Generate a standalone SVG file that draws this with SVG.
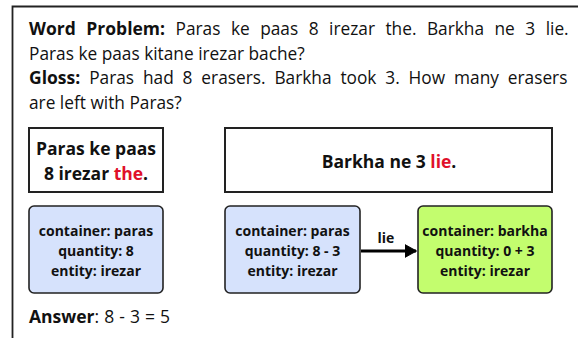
<svg xmlns="http://www.w3.org/2000/svg" width="578" height="338" viewBox="0 0 578 338">
<defs>
<style>
.t{font-family:"Open Sans","Noto Sans",sans-serif;fill:#111}
.b{font-weight:bold;font-size:17.5px}
.prob{font-size:17.3px}
.lbl{font-size:17.5px;font-weight:bold;text-anchor:middle}
.nd{font-size:14px;font-weight:bold;text-anchor:middle}
.red{fill:#e0102a}
.box{fill:#fff;stroke:#222;stroke-width:2}
.blue{fill:#d6e2fc;stroke:#222;stroke-width:1.6}
.green{fill:#c3fd6e;stroke:#222;stroke-width:1.6}
</style>
<marker id="ah" markerWidth="5" markerHeight="5" refX="3.8" refY="2.2" orient="auto" markerUnits="strokeWidth">
<path d="M0,0 L4,2.2 L0,4.4 Z" fill="#000" stroke="#000" stroke-width="0.3" stroke-linejoin="round"/>
</marker>
</defs>
<rect width="578" height="338" fill="#fff"/>
<path d="M12.5,345 V6.5 H585" fill="none" stroke="#222" stroke-width="1.8"/>
<g id="problem" class="t prob">
<text x="29" y="35" word-spacing="6"><tspan class="b">Word Problem:</tspan> Paras ke paas 8 irezar the. Barkha ne 3 lie.</text>
<text x="29" y="59.5">Paras ke paas kitane irezar bache?</text>
<text x="29" y="84" word-spacing="4.4"><tspan class="b">Gloss:</tspan> Paras had 8 erasers. Barkha took 3. How many erasers</text>
<text x="29" y="108.5">are left with Paras?</text>
</g>
<g id="sentence1">
<rect class="box" x="29" y="128" width="134" height="64"/>
<text class="t lbl" x="96" y="155">Paras ke paas</text>
<text class="t lbl" x="96" y="180">8 irezar <tspan class="red">the</tspan>.</text>
</g>
<g id="sentence2">
<rect class="box" x="225" y="128" width="327" height="64"/>
<text class="t lbl" x="389" y="168">Barkha ne 3 <tspan class="red">lie</tspan>.</text>
</g>
<g id="node1">
<rect class="blue" x="29" y="206" width="134" height="87" rx="5"/>
<text class="t nd" x="96" y="236">container: paras</text>
<text class="t nd" x="96" y="256">quantity: 8</text>
<text class="t nd" x="96" y="276">entity: irezar</text>
</g>
<g id="node2">
<rect class="blue" x="225" y="206" width="135" height="87" rx="5"/>
<text class="t nd" x="292.5" y="236">container: paras</text>
<text class="t nd" x="292.5" y="256">quantity: 8 - 3</text>
<text class="t nd" x="292.5" y="276">entity: irezar</text>
</g>
<g id="node3">
<rect class="green" x="418" y="206" width="134" height="87" rx="5"/>
<text class="t nd" x="485" y="236">container: barkha</text>
<text class="t nd" x="485" y="256">quantity: 0 + 3</text>
<text class="t nd" x="485" y="276">entity: irezar</text>
</g>
<g id="connectors">
<line x1="361" y1="251" x2="416" y2="251" stroke="#000" stroke-width="3" marker-end="url(#ah)"/>
<text class="t nd" x="386" y="243">lie</text>
</g>
<g id="answer">
<text class="t" x="29" y="323" font-size="17.5" word-spacing="0.5"><tspan class="b">Answer</tspan>: 8 - 3 = 5</text>
</g>
</svg>
